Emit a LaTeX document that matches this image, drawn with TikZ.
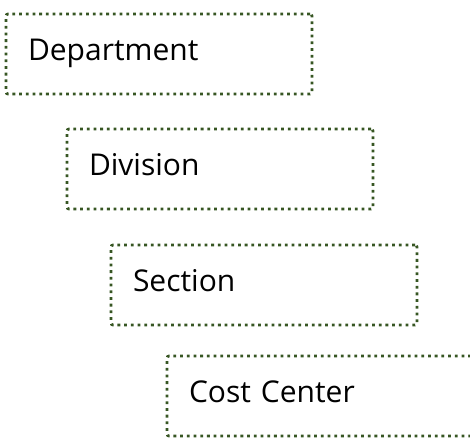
\documentclass[tikz,border=0pt]{standalone}
\usepackage{fontspec}
\setmainfont{Open Sans}
\definecolor{boxgreen}{HTML}{375623}
\def\levelbox(#1,#2,#3,#4){
  \node[lvl] (#1) at (#2,#3) {#4};
}

\begin{document}
\begin{tikzpicture}[x=1pt, y=-1pt,
  lvl/.style={draw=boxgreen, line width=2.8pt, dash pattern=on 2.8pt off 3.9pt,
    rounded corners=2pt, minimum width=306pt, minimum height=80pt,
    text width=262pt, inner xsep=22pt, align=left,
    text height=20pt, text depth=8pt, font=\fontsize{30}{36}\selectfont}]
\useasboundingbox (0,0) rectangle (470,437);
% levels, each one shifted right and down
\levelbox(dept,159,54,Department)
\levelbox(div,220,169,Division)
\levelbox(sect,264,285,Section)
\levelbox(cost,320,396,Cost Center)
\end{tikzpicture}
\end{document}
